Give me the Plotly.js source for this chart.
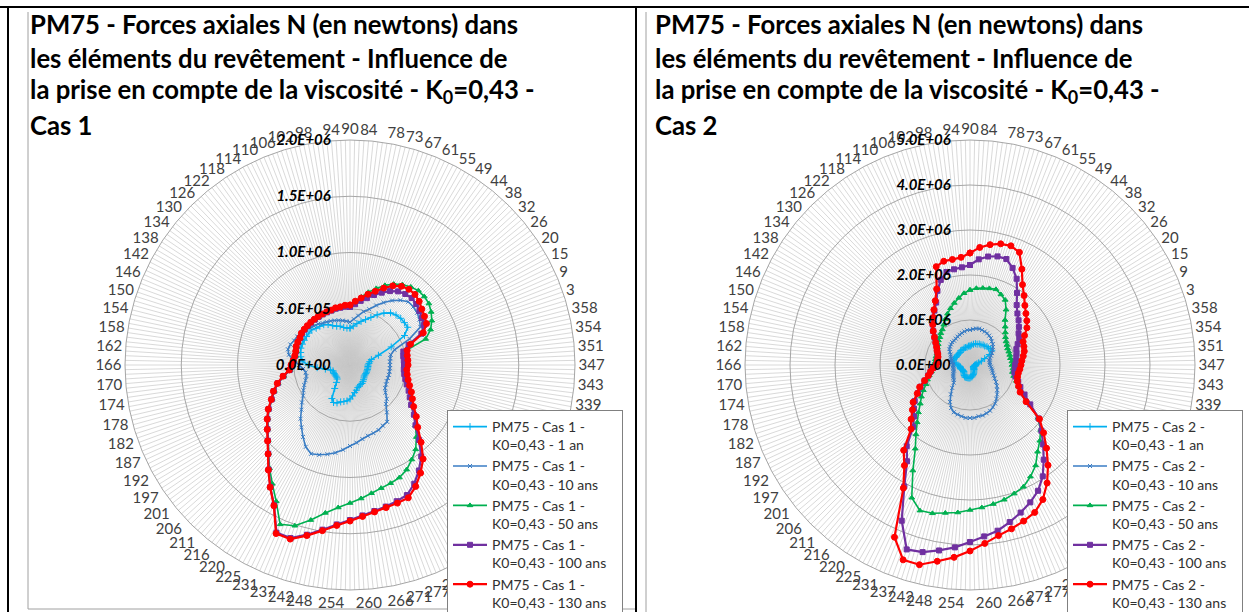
<!DOCTYPE html>
<html>
<head>
<meta charset="utf-8">
<script src="https://cdn.plot.ly/plotly-3.0.1.min.js"></script>
<style>html,body{margin:0;padding:0;background:#fff;}#chart{width:1249px;height:612px;}</style>
</head>
<body>
<div id="chart"></div>
<script>
// Category labels (element angles), clockwise from the top
const angleLabels = ['90','84','78','73','67','61','55','49','44','38',
 '32','26','20','15','9','3','358','354','351','347',
 '343','339','336','332','327','322','317','312','307','302',
 '297','292','288','283','277','271','266','260','','254',
 '248','242','237','231','225','220','216','211','206','201',
 '197','192','187','182','178','174','170','166','162','158',
 '154','150','146','142','138','134','130','126','122','118',
 '114','110','106','102','98','94'];

const seriesNames = ['1 an','10 ans','50 ans','100 ans','130 ans'];

// Cas 1 - axial forces (kN)
const cas1_1an = [329,347,373,400,427,462,507,551,587,604, 613,613,613,551,400,267,196,178,169,160,
 160,160,160,160,160,160,160,160,169,178, 187,196,196,204,213,231,249,276,302,320,
 329,338,356,364,338,249,196,169,160,160, 160,160,160,160,178,222,293,373,427,444,
 453,462,462,462,462,462,462,444,436,427, 409,382,364,356,338,329];
const cas1_10ans = [382,409,444,489,524,578,631,684,729,764, 764,756,738,711,578,418,373,364,356,356,
 356,356,356,356,356,364,373,400,444,471, 533,604,613,631,640,649,667,693,720,756,
 791,818,844,862,827,764,702,649,587,542, 498,471,444,418,400,400,418,453,498,551,
 569,560,542,533,524,507,489,471,462,444, 436,427,418,409,400,391];
const cas1_50ans = [533,569,613,667,720,773,818,853,880,898, 898,889,862,827,782,711,507,489,489,489,
 489,498,516,542,578,613,658,720,791,871, 951,1004,1058,1093,1111,1129,1156,1191,1227,1271,
 1333,1422,1511,1547,1378,1262,1164,1067,987,924, 871,818,756,711,658,596,533,507,498,489,
 489,498,498,498,507,507,507,507,507,507, 507,507,507,516,516,524];
const cas1_100ans = [516,542,578,613,658,702,747,782,800,809, 800,782,764,747,693,551,489,480,480,480,
 480,489,507,533,569,604,649,720,791,907, 1031,1120,1200,1262,1280,1298,1316,1342,1378,1422,
 1484,1556,1627,1627,1418,1295,1178,1072,992,929, 876,822,760,716,662,600,538,520,503,494,
 494,503,503,503,511,511,511,511,511,511, 511,511,511,516,516,520];
const cas1_130ans = [533,569,604,649,693,747,800,836,853,853, 836,809,791,773,711,569,524,516,516,516,
 507,516,533,560,596,631,676,747,818,933, 1058,1147,1227,1289,1298,1307,1324,1351,1387,1431,
 1493,1564,1636,1636,1422,1298,1182,1076,996,933, 880,827,764,720,667,604,542,524,507,498,
 498,507,507,507,516,516,516,516,516,516, 516,516,516,524,524,533];

// Cas 2 - axial forces (kN)
const cas2_1an = [422,444,467,489,489,511,511,533,533,556, 556,578,578,489,356,267,200,156,133,111,
 111,111,111,89,89,89,89,111,111,133, 133,156,178,200,222,244,267,267,289,289,
 289,289,289,289,267,244,222,200,200,200, 200,200,222,222,222,222,244,267,311,356,
 378,378,378,356,356,356,356,356,356,378, 378,378,400,400,400,422];
const cas2_10ans = [778,800,822,833,822,811,800,778,756,711, 689,644,600,556,511,467,444,444,444,444,
 467,489,511,533,578,622,689,756,822,889, 956,1022,1067,1111,1133,1156,1156,1178,1178,1178,
 1156,1133,1111,1044,933,778,644,533,489,467, 444,422,400,378,378,378,378,378,378,400,
 422,444,467,489,533,578,600,622,644,644, 667,689,711,733,756,778];
const cas2_50ans = [1667,1711,1733,1756,1778,1711,1644,1467,1267,1156, 1067,1000,956,933,911,911,911,911,933,933,
 956,956,1000,1089,1178,1289,1556,1911,2133,2289, 2444,2667,2822,2956,3022,3089,3133,3178,3222,3289,
 3333,3400,3422,3222,2667,2222,1956,1733,1556,1400, 1289,1178,1067,1000,933,867,822,800,778,778,
 778,778,800,822,844,889,911,956,1000,1067, 1156,1244,1333,1422,1511,1600];
const cas2_100ans = [2222,2356,2444,2489,2489,2356,2178,1911,1689,1556, 1467,1378,1289,1244,1156,1089,1067,1044,1022,1000,
 1000,1000,1044,1133,1222,1378,1600,1933,2156,2400, 2667,2956,3178,3333,3467,3600,3733,3822,3933,4067,
 4178,4289,4333,3778,3067,2556,2289,1867,1689,1578, 1467,1311,1200,1067,956,889,822,756,733,733,
 733,756,800,844,911,1000,1111,1222,1333,1444, 1578,1800,2000,2133,2156,2178];
const cas2_130ans = [2489,2622,2711,2778,2800,2733,2422,2133,1956,1800, 1689,1600,1511,1378,1289,1267,1244,1200,1156,1133,
 1111,1089,1089,1111,1178,1267,1489,1956,2222,2511, 2822,3133,3400,3578,3667,3756,3844,3978,4133,4289,
 4422,4578,4578,4178,3111,2667,2400,1933,1778,1622, 1511,1333,1222,1067,956,889,822,756,733,733,
 733,756,800,844,911,1000,1111,1222,1333,1467, 1622,1844,2311,2378,2378,2400];

const cas1Ticks = [0, 500000, 1000000, 1500000, 2000000];
const cas1TickText = ['0.0E+00','5.0E+05','1.0E+06','1.5E+06','2.0E+06'];
const cas2Ticks = [0, 1000000, 2000000, 3000000, 4000000, 5000000];
const cas2TickText = ['0.0E+00','1.0E+06','2.0E+06','3.0E+06','4.0E+06','5.0E+06'];

const N = angleLabels.length;
const SUB = 4; // radial spokes per category label
const step = 360 / N;
const catTheta = angleLabels.map((_, i) => i * step);
const spokeVals = [], spokeText = [];
for (let k = 0; k < N * SUB; k++) {
  spokeVals.push(k * step / SUB);
  spokeText.push(k % SUB === 0 ? angleLabels[k / SUB] : ' ');
}
const PAD = '\u00A0\u00A0\u00A0';
const RPAD = '\u00A0\u00A0\u00A0\u00A0\u00A0';

const styles = [
  {color:'#00B0F0', symbol:'cross-thin-open', size:5, width:1.6},
  {color:'#3A7DC4', symbol:'x-thin-open', size:4, width:1.6},
  {color:'#00B050', symbol:'triangle-up', size:5, width:1.6},
  {color:'#7030A0', symbol:'square', size:5, width:2.2},
  {color:'#FF0000', symbol:'circle', size:6, width:2.2}
];

function closed(a) { return a.concat([a[0]]); }

function makeTraces(cas, arrays, subplot, legend) {
  return arrays.map((arr, j) => ({
    type: 'scatterpolar',
    mode: 'lines+markers',
    r: closed(arr.map(v => v * 1000)),
    theta: closed(catTheta),
    subplot: subplot,
    legend: legend,
    name: 'PM75 - Cas ' + cas + ' -<br>K0=0,43 - ' + seriesNames[j] + PAD,
    line: {color: styles[j].color, width: styles[j].width},
    marker: {color: styles[j].color, symbol: styles[j].symbol, size: styles[j].size,
             line: {color: styles[j].color, width: 1}},
    hoverinfo: 'skip'
  }));
}

const traces = [].concat(
  makeTraces(1, [cas1_1an, cas1_10ans, cas1_50ans, cas1_100ans, cas1_130ans], 'polar', 'legend'),
  makeTraces(2, [cas2_1an, cas2_10ans, cas2_50ans, cas2_100ans, cas2_130ans], 'polar2', 'legend2')
);

const W = 1249, H = 612;
function polarLayout(cx, ticks, tickText) {
  const R = 225;
  return {
    domain: {x: [(cx - R) / W, (cx + R) / W], y: [(H - 365 - R) / H, (H - 365 + R) / H]},
    bgcolor: 'rgba(0,0,0,0)',
    gridshape: 'circular',
    angularaxis: {
      type: 'linear', thetaunit: 'degrees', rotation: 90, direction: 'clockwise',
      tickmode: 'array', tickvals: spokeVals, ticktext: spokeText,
      showgrid: true, gridcolor: '#c9c9c9', gridwidth: 0.7,
      showline: true, linecolor: '#a6a6a6', linewidth: 1,
      ticks: '',
      tickfont: {family: 'Lato, Carlito, sans-serif', size: 15, color: '#404040'}
    },
    radialaxis: {
      range: [0, ticks[ticks.length - 1]], angle: 90, side: 'counterclockwise',
      tickmode: 'array', tickvals: ticks, ticktext: tickText.map(t => t + RPAD),
      showline: false, ticks: '', showgrid: true, gridcolor: '#a6a6a6', gridwidth: 1,
      tickangle: 90,
      tickfont: {family: 'Lato, Carlito, sans-serif', size: 15, color: '#000', weight: 'bold', style: 'italic'}
    }
  };
}

function titleLines(x0, casText) {
  const lines = ['PM75 - Forces axiales N (en newtons) dans',
                 'les éléments du revêtement - Influence de',
                 'la prise en compte de la viscosité - K<sub>0</sub>=0,43 -',
                 casText];
  const ys = [24, 58, 91, 125];
  return lines.map((t, i) => ({
    text: t, xref: 'paper', yref: 'paper', x: x0 / W, y: 1 - ys[i] / H,
    xanchor: 'left', yanchor: 'middle', showarrow: false, align: 'left',
    font: {family: 'Lato, Carlito, sans-serif', size: 25.7, color: '#000', weight: 'bold'}
  }));
}

function legendCfg(x0) {
  return {
    x: x0 / W, y: 1 - 410 / H, xanchor: 'left', yanchor: 'top',
    bgcolor: '#fff', bordercolor: '#808080', borderwidth: 1,
    font: {family: 'Lato, Carlito, sans-serif', size: 14, color: '#303030'},
    tracegroupgap: 0, itemwidth: 34, valign: 'top'
  };
}

function vline(x, y0, y1, color, w) {
  return {type: 'line', xref: 'paper', yref: 'paper', x0: x / W, x1: x / W,
          y0: 1 - y0 / H, y1: 1 - y1 / H, line: {color: color, width: w}};
}
function hline(y, x0, x1, color, w) {
  return {type: 'line', xref: 'paper', yref: 'paper', x0: x0 / W, x1: x1 / W,
          y0: 1 - y / H, y1: 1 - y / H, line: {color: color, width: w}};
}

const layout = {
  width: W, height: H,
  margin: {l: 0, r: 0, t: 0, b: 0, autoexpand: false},
  paper_bgcolor: '#fff',
  showlegend: true,
  polar: polarLayout(350, cas1Ticks, cas1TickText),
  polar2: polarLayout(970, cas2Ticks, cas2TickText),
  legend: legendCfg(447),
  legend2: legendCfg(1067),
  annotations: titleLines(28, 'Cas 1').concat(titleLines(653, 'Cas 2')),
  shapes: [
    hline(7, 0, 1249, '#000', 2),
    vline(8, 7, 612, '#000', 2),
    vline(28, 12, 609, '#a0a0a0', 1),
    hline(609, 28, 636, '#a0a0a0', 1),
    vline(636, 7, 612, '#000', 2),
    vline(646, 12, 612, '#a0a0a0', 1)
  ]
};

Plotly.newPlot('chart', traces, layout, {staticPlot: true, displayModeBar: false});
</script>
</body>
</html>
